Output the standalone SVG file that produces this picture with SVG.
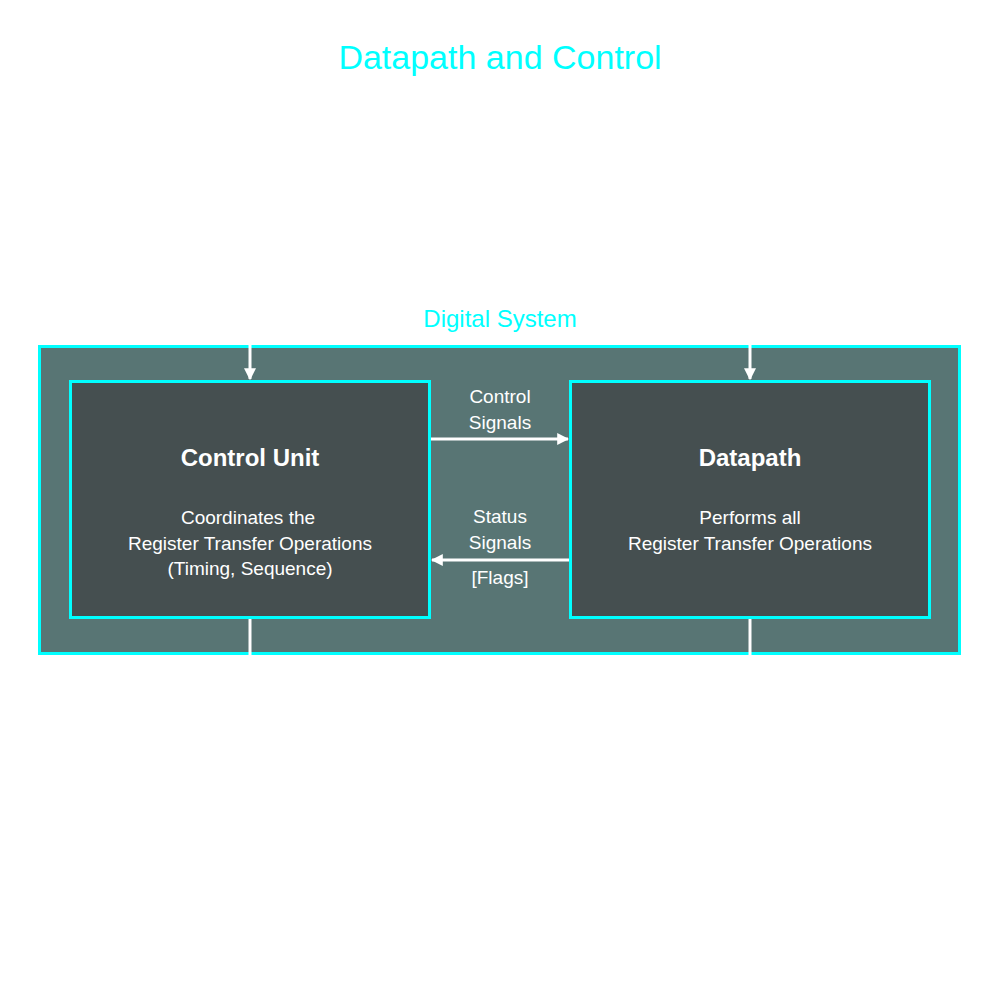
<svg xmlns="http://www.w3.org/2000/svg" width="1000" height="1000" viewBox="0 0 1000 1000">
<style>
.t{font-family:"Liberation Sans",Arial,sans-serif;text-anchor:middle}
.w{fill:#fff;font-size:19px}
.b{fill:#fff;font-size:24px;font-weight:bold}
.c{fill:#00ffff;font-size:24px}
.box{fill:#454f50;stroke:#00ffff;stroke-width:3}
.ln{stroke:#fff;stroke-width:3;fill:none}
</style>
<defs>
<marker id="ah" viewBox="0 0 10 10" refX="9" refY="5" markerWidth="4" markerHeight="4" orient="auto"><path d="M0,0L10,5L0,10z" fill="#fff"/></marker>
</defs>
<rect width="1000" height="1000" fill="#fff"/>
<text class="t c" x="500" y="69" font-size="34" style="font-size:34px">Datapath and Control</text>
<g id="system">
<text class="t c" x="500" y="327">Digital System</text>
<rect x="39.500" y="346.500" width="920" height="307" fill="#587574" stroke="#00ffff" stroke-width="3"/>
</g>
<g id="control-unit">
<rect class="box" x="70.500" y="381.500" width="359" height="236"/>
<text class="t b" x="250" y="466">Control Unit</text>
<text class="t w" x="248" y="524">Coordinates the</text>
<text class="t w" x="250" y="550">Register Transfer Operations</text>
<text class="t w" x="250" y="575">(Timing, Sequence)</text>
</g>
<g id="datapath">
<rect class="box" x="570.500" y="381.500" width="359" height="236"/>
<text class="t b" x="750" y="466">Datapath</text>
<text class="t w" x="750" y="524">Performs all</text>
<text class="t w" x="750" y="550">Register Transfer Operations</text>
</g>
<g id="connectors">
<line class="ln" x1="250" y1="344" x2="250" y2="379" marker-end="url(#ah)"/>
<line class="ln" x1="750" y1="344" x2="750" y2="379" marker-end="url(#ah)"/>
<line class="ln" x1="250" y1="619" x2="250" y2="656"/>
<line class="ln" x1="750" y1="619" x2="750" y2="656"/>
<line class="ln" x1="431" y1="439" x2="568" y2="439" marker-end="url(#ah)"/>
<line class="ln" x1="569" y1="560" x2="432" y2="560" marker-end="url(#ah)"/>
<text class="t w" x="500" y="403">Control</text>
<text class="t w" x="500" y="429">Signals</text>
<text class="t w" x="500" y="523">Status</text>
<text class="t w" x="500" y="549">Signals</text>
<text class="t w" x="500" y="584">[Flags]</text>
</g>
</svg>
